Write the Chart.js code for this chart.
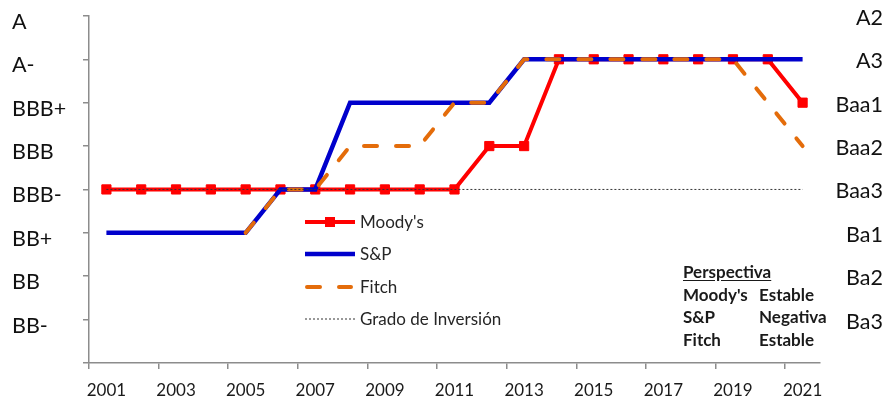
<!DOCTYPE html>
<html>
<head>
<meta charset="utf-8">
<script src="https://cdn.jsdelivr.net/npm/chart.js@4.4.1/dist/chart.umd.min.js"></script>
<style>
  html, body { margin: 0; padding: 0; background: #ffffff; }
  #wrap { position: relative; width: 891px; height: 400px; }
  #perspectiva {
    position: absolute; left: 683px; top: 261px;
    font: bold 17px Lato, sans-serif; color: #1a1a1a; line-height: 22.5px;
  }
  #perspectiva .row { display: flex; white-space: nowrap; }
  #perspectiva .c1 { width: 76px; }
  #perspectiva u { text-underline-offset: 2px; }
</style>
</head>
<body>
<div id="wrap">
  <canvas id="myChart" width="891" height="400"></canvas>
  <div id="perspectiva">
    <div class="row"><u>Perspectiva</u></div>
    <div class="row"><span class="c1">Moody's</span><span>Estable</span></div>
    <div class="row"><span class="c1">S&amp;P</span><span>Negativa</span></div>
    <div class="row"><span class="c1">Fitch</span><span>Estable</span></div>
  </div>
</div>
<script>
'use strict';

//***************** Data *****************
// rating scale: 1 = BB- ... 8 = A
let years = ['2001', '2002', '2003', '2004', '2005', '2006', '2007', '2008', '2009', '2010', '2011',
  '2012', '2013', '2014', '2015', '2016', '2017', '2018', '2019', '2020', '2021'];

let moodysValues = [4, 4, 4, 4, 4, 4, 4, 4, 4, 4, 4, 5, 5, 7, 7, 7, 7, 7, 7, 7, 6];
let spValues     = [3, 3, 3, 3, 3, 4, 4, 6, 6, 6, 6, 6, 7, 7, 7, 7, 7, 7, 7, 7, 7];
let fitchValues  = [null, null, null, null, 3, 4, 4, 5, 5, 5, 6, 6, 7, 7, 7, 7, 7, 7, 7, 6, 5];
let gradoValues  = [4, 4, 4, 4, 4, 4, 4, 4, 4, 4, 4, 4, 4, 4, 4, 4, 4, 4, 4, 4, 4];

let leftTickLabels  = ['', 'BB-', 'BB', 'BB+', 'BBB-', 'BBB', 'BBB+', 'A-', 'A'];
let rightTickLabels = ['', 'Ba3', 'Ba2', 'Ba1', 'Baa3', 'Baa2', 'Baa1', 'A3', 'A2'];


//***************** Canvas Reference *****************
let ctx = document.getElementById('myChart');

let axisGray = '#8c8c8c';
let labelFont = 'Lato, sans-serif';


//***************** Legend plugin *****************
// draws the little legend box in the middle of the chart, same styles as the datasets
let innerLegend = {
  id: 'innerLegend',
  afterDraw(chart) {
    let c = chart.ctx;
    let rows = [222, 254, 287, 319];
    let x0 = 305;
    let x1 = 355;

    chart.data.datasets.forEach(function (ds, i) {
      let y = rows[i];
      c.save();
      c.strokeStyle = ds.borderColor;
      c.lineWidth = ds.borderWidth;
      c.lineCap = ds.borderCapStyle || 'butt';
      c.setLineDash(ds.borderDash || []);
      c.beginPath();
      c.moveTo(x0 + (ds.borderCapStyle === 'round' ? 2 : 0), y);
      c.lineTo(ds.borderCapStyle === 'round' ? x1 - 4 : x1, y);
      c.stroke();
      if (ds.pointRadius > 0) {
        c.setLineDash([]);
        c.fillStyle = ds.pointBackgroundColor;
        c.fillRect(330 - 5, y - 5, 10, 10);
      }
      c.fillStyle = '#262626';
      c.font = '17px ' + labelFont;
      c.textBaseline = 'middle';
      c.fillText(ds.label, 360, y + 1);
      c.restore();
    });
  }
};


//***************** Chart *****************
let myChartObj = {
  type: 'line',
  data: {
    labels: years,
    datasets: [{
      label: "Moody's",
      data: moodysValues,
      borderColor: '#ff0000',
      backgroundColor: '#ff0000',
      borderWidth: 4,
      pointStyle: 'rect',
      pointRadius: 6.5,
      pointBackgroundColor: '#ff0000',
      pointBorderColor: '#ff0000',
      pointBorderWidth: 1,
      order: 4
    },
    {
      label: 'S&P',
      data: spValues,
      borderColor: '#0000cc',
      backgroundColor: '#0000cc',
      borderWidth: 4.5,
      pointRadius: 0,
      order: 3
    },
    {
      label: 'Fitch',
      data: fitchValues,
      borderColor: '#e46c0a',
      backgroundColor: '#e46c0a',
      borderWidth: 4,
      borderDash: [13, 19],
      borderCapStyle: 'round',
      pointRadius: 0,
      order: 2
    },
    {
      label: 'Grado de Inversión',
      data: gradoValues,
      borderColor: '#333333',
      backgroundColor: '#333333',
      borderWidth: 1,
      borderDash: [2, 2],
      pointRadius: 0,
      order: 1
    }]
  },
  options: {
    responsive: false,
    animation: false,
    devicePixelRatio: 1,
    layout: {
      padding: { top: 14, left: 12, right: 8, bottom: 0 }
    },
    plugins: {
      legend: { display: false },
      tooltip: { enabled: false }
    },
    elements: {
      line: { tension: 0 }
    },
    scales: {
      x: {
        type: 'category',
        offset: true,
        border: { display: true, color: axisGray, width: 1.5 },
        grid: {
          offset: true,
          drawOnChartArea: false,
          drawTicks: true,
          tickLength: 6,
          lineWidth: 1.5,
          color: function (context) {
            return context.index % 2 === 0 ? axisGray : 'rgba(0,0,0,0)';
          }
        },
        ticks: {
          autoSkip: false,
          maxRotation: 0,
          padding: 11,
          color: '#1a1a1a',
          font: { family: labelFont, size: 17 },
          callback: function (value, index) {
            return index % 2 === 0 ? years[index] : '';
          }
        },
        afterFit: function (scale) {
          scale.height = 37;
        }
      },
      y: {
        position: 'left',
        min: 0,
        max: 8,
        border: { display: true, color: axisGray, width: 1.5 },
        grid: {
          drawOnChartArea: false,
          drawTicks: true,
          tickLength: 6,
          lineWidth: 1.5,
          color: axisGray
        },
        ticks: {
          stepSize: 1,
          crossAlign: 'far',
          labelOffset: 6,
          color: '#111111',
          font: { family: labelFont, size: 21.5 },
          callback: function (value) {
            return leftTickLabels[value];
          }
        },
        afterFit: function (scale) {
          scale.width = 77;
        }
      },
      y2: {
        position: 'right',
        min: 0,
        max: 8,
        border: { display: false },
        grid: { display: false, drawTicks: false },
        ticks: {
          stepSize: 1,
          crossAlign: 'far',
          labelOffset: 2,
          color: '#111111',
          font: { family: labelFont, size: 21.5 },
          callback: function (value) {
            return rightTickLabels[value];
          }
        },
        afterFit: function (scale) {
          scale.width = 63;
        }
      }
    }
  },
  plugins: [innerLegend]
};

new Chart(ctx, myChartObj);
</script>
</body>
</html>
